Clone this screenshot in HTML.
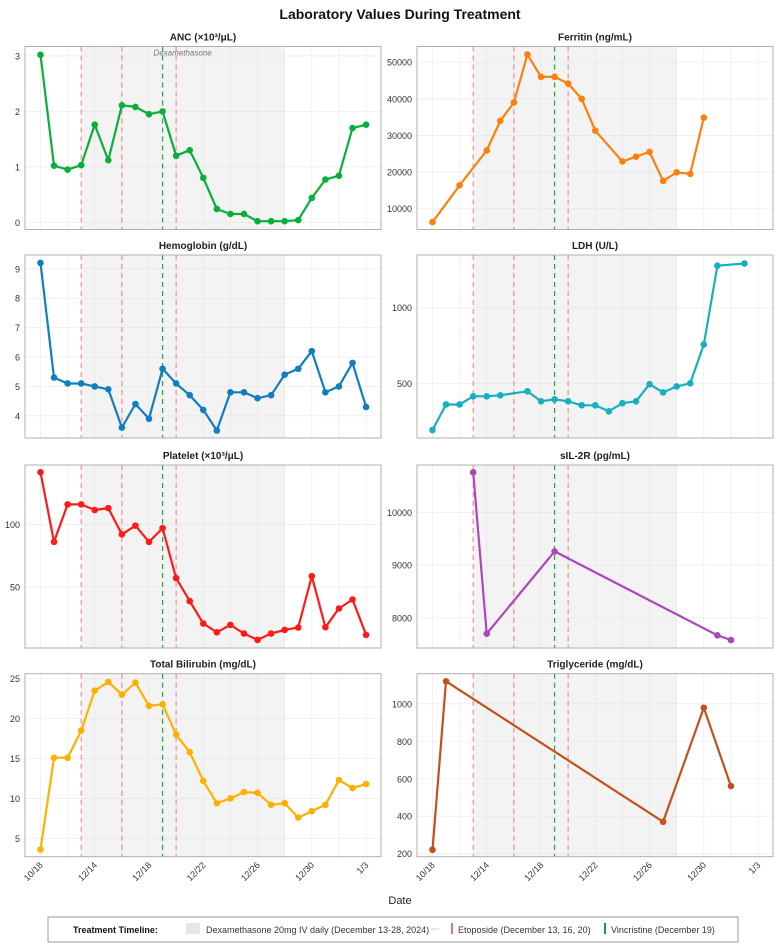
<!DOCTYPE html>
<html><head><meta charset="utf-8"><style>
html,body{margin:0;padding:0;background:#fff;width:780px;height:945px;overflow:hidden;font-family:"Liberation Sans",Arial,sans-serif}
svg{display:block}
</style></head><body>
<svg id="chart" width="780" height="945" viewBox="0 0 780 945" xmlns="http://www.w3.org/2000/svg">
<text x="400" y="19" text-anchor="middle" font-size="14" font-weight="bold" fill="#111">Laboratory Values During Treatment</text>
<g id="panels"></g>
<text x="400" y="904" text-anchor="middle" font-size="11" fill="#222">Date</text>
<g>
<rect x="48" y="917" width="690" height="25" fill="#fff" stroke="#999" stroke-width="1"/>
<text x="73" y="933" font-size="9" font-weight="bold" fill="#111">Treatment Timeline:</text>
<rect x="186" y="923" width="14" height="11" fill="#e6e6e6"/>
<text x="206" y="933" font-size="9" fill="#333">Dexamethasone 20mg IV daily (December 13-28, 2024)</text>
<line x1="431" y1="929" x2="439" y2="929" stroke="#ccc" stroke-width="1"/>
<rect x="451" y="923" width="2" height="11" fill="#f07070"/>
<text x="458" y="933" font-size="9" fill="#333">Etoposide (December 13, 16, 20)</text>
<text x="592" y="931" font-size="7" fill="#999">·</text>
<rect x="604" y="923" width="2" height="11" fill="#1a9a3a"/>
<text x="611" y="933" font-size="9" fill="#333">Vincristine (December 19)</text>
</g>
</svg>
<script>
// x positions are day offsets from first measurement (Dec 10)
const xTickDays = [0,4,8,12,16,20,24];
const xTickLabels = ["10/18","12/14","12/18","12/22","12/26","12/30","1/3"];
const dexStartDay = 3, dexEndDay = 18;
const etoposideDays = [3,6,10];
const vincristineDays = [9];

const ancDays = [0,1,2,3,4,5,6,7,8,9,10,11,12,13,14,15,16,17,18,19,20,21,22,23,24];
const ancValues = [3.02,1.02,0.95,1.03,1.76,1.12,2.11,2.08,1.95,2.0,1.2,1.3,0.8,0.24,0.15,0.15,0.02,0.02,0.02,0.04,0.44,0.77,0.84,1.7,1.76];
const ferritinDays = [0,2,4,5,6,7,8,9,10,11,12,14,15,16,17,18,19,20];
const ferritinValues = [6350,16400,25900,34000,39000,52100,46000,46000,44150,40000,31300,22900,24200,25500,17600,19950,19500,34840];
const hgbDays = [0,1,2,3,4,5,6,7,8,9,10,11,12,13,14,15,16,17,18,19,20,21,22,23,24];
const hgbValues = [9.2,5.3,5.1,5.1,5.0,4.9,3.6,4.4,3.9,5.6,5.1,4.7,4.2,3.5,4.8,4.8,4.6,4.7,5.4,5.6,6.2,4.8,5.0,5.8,4.3];
const ldhDays = [0,1,2,3,4,5,7,8,9,10,11,12,13,14,15,16,17,18,19,20,21,23];
const ldhValues = [326,412,412,444,444,448,465,424,432,424,409,409,387,417,424,496,460,486,500,714,1470,1500];
const pltDays = [0,1,2,3,4,5,6,7,8,9,10,11,12,13,14,15,16,17,18,19,20,21,22,23,24];
const pltValues = [141.7,86,116,116,111.5,113,92,99,86,97,57,38.6,20.7,13.7,19.6,12.7,7.6,12.7,15.6,17.5,58.6,17.7,32.7,39.9,11.6];
const sil2rDays = [3,4,9,21,22];
const sil2rValues = [10760,7700,9260,7670,7580];
const biliDays = [0,1,2,3,4,5,6,7,8,9,10,11,12,13,14,15,16,17,18,19,20,21,22,23,24];
const biliValues = [3.6,15.1,15.1,18.5,23.5,24.6,23.0,24.5,21.6,21.8,18.0,15.8,12.2,9.4,10.0,10.8,10.7,9.2,9.4,7.6,8.4,9.2,12.3,11.3,11.8];
const trigDays = [0,1,17,20,22];
const trigValues = [221,1120,370,979,561];

const ancTicks=[0,1,2,3], ferritinTicks=[10000,20000,30000,40000,50000], hgbTicks=[4,5,6,7,8,9],
      ldhTicks=[500,1000], pltTicks=[50,100], sil2rTicks=[8000,9000,10000],
      biliTicks=[5,10,15,20,25], trigTicks=[200,400,600,800,1000];

const panels = [
 {name:"anc",title:"ANC (×10³/μL)",col:0,row:0,days:ancDays,vals:ancValues,ticks:ancTicks,dom:[-0.13,3.17],color:"#0aae3a",annot:true},
 {name:"ferritin",title:"Ferritin (ng/mL)",col:1,row:0,days:ferritinDays,vals:ferritinValues,ticks:ferritinTicks,dom:[4330,54270],color:"#ff7f0e"},
 {name:"hemoglobin",title:"Hemoglobin (g/dL)",col:0,row:1,days:hgbDays,vals:hgbValues,ticks:hgbTicks,dom:[3.245,9.47],color:"#117ec0"},
 {name:"ldh",title:"LDH (U/L)",col:1,row:1,days:ldhDays,vals:ldhValues,ticks:ldhTicks,dom:[303,1621],color:"#17b0c0",log:true},
 {name:"platelet",title:"Platelet (×10³/μL)",col:0,row:2,days:pltDays,vals:pltValues,ticks:pltTicks,dom:[1.1,147.5],color:"#ff1a1a"},
 {name:"sil2r",title:"sIL-2R (pg/mL)",col:1,row:2,days:sil2rDays,vals:sil2rValues,ticks:sil2rTicks,dom:[7429,10898],color:"#ab47bc"},
 {name:"bilirubin",title:"Total Bilirubin (mg/dL)",col:0,row:3,days:biliDays,vals:biliValues,ticks:biliTicks,dom:[2.7,25.63],color:"#ffb000"},
 {name:"triglyceride",title:"Triglyceride (mg/dL)",col:1,row:3,days:trigDays,vals:trigValues,ticks:trigTicks,dom:[184,1160.7],color:"#c2521a"}
];
const colLeft=[25,417], plotW=356, rowTop=[46.5,255,465,673.7], plotH=183;
const xDom=[-1.14,25.1];
const NS="http://www.w3.org/2000/svg";
const root=document.getElementById("panels");
function mk(tag,attrs,parent){const e=document.createElementNS(NS,tag);for(const k in attrs)e.setAttribute(k,attrs[k]);parent.appendChild(e);return e;}

panels.forEach(p=>{
  const L=colLeft[p.col], T=rowTop[p.row], B=T+plotH, R=L+plotW;
  const xs=d=>L+(d-xDom[0])/(xDom[1]-xDom[0])*plotW;
  const ys=p.log? v=>B-(Math.log(v)-Math.log(p.dom[0]))/(Math.log(p.dom[1])-Math.log(p.dom[0]))*plotH
               : v=>B-(v-p.dom[0])/(p.dom[1]-p.dom[0])*plotH;
  const g=mk("g",{},root);
  
  
  const t=mk("text",{x:(L+R)/2,y:T-6,"text-anchor":"middle","font-size":"10","font-weight":"bold",fill:"#222"},g);
  t.textContent=p.title;
  
  
  for(let d=0;d<=24;d+=2){
    const gl=mk("line",{x1:xs(d),x2:xs(d),y1:T,y2:B,stroke:"#eeeeee","stroke-width":"0.8"},g);
    
    
  }
  p.ticks.forEach(v=>{
    const gl=mk("line",{x1:L,x2:R,y1:ys(v),y2:ys(v),stroke:"#eeeeee","stroke-width":"0.8"},g);
    
    
    const tl=mk("text",{x:L-5,y:ys(v)+3.5,"text-anchor":"end","font-size":"9",fill:"#333"},g);
    tl.textContent=String(v);
    
    
  });
  const sh=mk("rect",{x:xs(dexStartDay),y:T,width:xs(dexEndDay)-xs(dexStartDay),height:plotH,fill:"#d8d8d8","fill-opacity":"0.3"},g);
  
  
  etoposideDays.forEach(d=>{
    const l=mk("line",{x1:xs(d),x2:xs(d),y1:T,y2:B,stroke:"#f08080","stroke-width":"1.3","stroke-dasharray":"5,4","stroke-opacity":"0.8"},g);
    
    
  });
  vincristineDays.forEach(d=>{
    const l=mk("line",{x1:xs(d),x2:xs(d),y1:T,y2:B,stroke:"#2aa84a","stroke-width":"1.3","stroke-dasharray":"5,4"},g);
    
    
  });
  if(p.annot){
    const a=mk("text",{x:xs(9)+20,y:T+9,"text-anchor":"middle","font-size":"8","font-style":"italic",fill:"#777"},g);
    a.textContent="Dexamethasone";
    
    
  }
  const pts=p.days.map((d,i)=>xs(d).toFixed(1)+","+ys(p.vals[i]).toFixed(1)).join(" ");
  const pl=mk("polyline",{points:pts,fill:"none",stroke:p.color,"stroke-width":"2.2","stroke-linejoin":"round"},g);
  
  
  p.days.forEach((d,i)=>{
    const c=mk("circle",{cx:xs(d),cy:ys(p.vals[i]),r:"3.3",fill:p.color},g);
    
    
  });
  const fr=mk("rect",{x:L,y:T,width:plotW,height:plotH,fill:"none",stroke:"#b0b0b0","stroke-width":"1"},g);
  
  
  if(p.row===3){
    xTickDays.forEach((d,i)=>{
      const x=xs(d), y=B+9;
      const tl=mk("text",{x:x+3,y:y,"text-anchor":"end","font-size":"9",fill:"#333",transform:`rotate(-45 ${x+3} ${y})`},g);
      tl.textContent=xTickLabels[i];
      
      
    });
  }
});
</script>
</body></html>
